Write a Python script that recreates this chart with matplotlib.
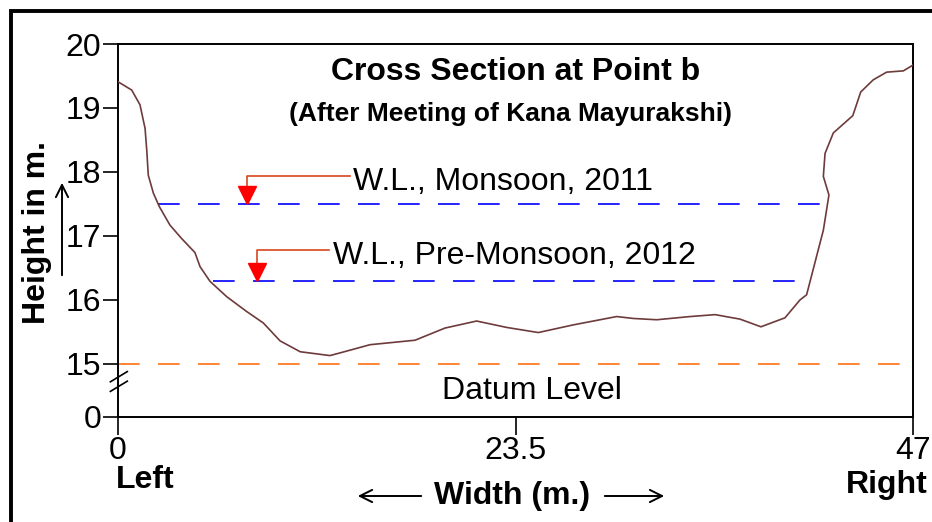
import matplotlib
matplotlib.use("Agg")
import matplotlib.pyplot as plt
from matplotlib.patches import Rectangle
from matplotlib.transforms import ScaledTranslation

plt.rcParams['font.family'] = ['Liberation Sans', 'DejaVu Sans']

# 断面データ (幅 m, 高さ m)
width = [0, 0.81, 1.3, 1.6, 1.7, 1.79, 2.09, 2.44, 3.07, 3.76, 4.55, 4.85, 5.44,
         6.43, 7.6, 8.59, 9.58, 10.77, 12.53, 13.1, 14.9, 17.56, 19.33, 21.2,
         22.98, 24.85, 26.92, 29.48, 30.47, 31.85, 33.82, 35.3, 36.77, 38.01,
         39.43, 40.32, 40.71, 41.7, 42.03, 41.7, 41.8, 42.29, 43.44, 43.91,
         44.65, 45.44, 46.43, 47]
height = [19.41, 19.28, 19.05, 18.68, 18.34, 17.95, 17.67, 17.46, 17.17, 16.96,
          16.74, 16.52, 16.29, 16.05, 15.82, 15.64, 15.36, 15.19, 15.13, 15.17,
          15.30, 15.37, 15.56, 15.67, 15.57, 15.49, 15.61, 15.74, 15.71, 15.69,
          15.74, 15.77, 15.70, 15.58, 15.72, 16.0, 16.08, 17.09, 17.64, 17.93,
          18.29, 18.61, 18.88, 19.25, 19.44, 19.56, 19.58, 19.67]

# 水位 (W.L.)
wl_names = ["W.L., Monsoon, 2011", "W.L., Pre-Monsoon, 2012"]
wl_levels = [17.50, 16.29]
wl_start = [2.38, 5.64]
wl_end = [41.8, 40.7]
wl_arrow_x = [7.61, 8.2]
wl_elbow_y = [17.94, 16.78]
wl_text_x = [13.9, 12.7]

datum = 15.0
y_zero = 14.17   # 軸の切れ目より下の "0" の位置

xticks = [0, 23.5, 47]
xlabels = ["0", "23.5", "47"]
yticks = [y_zero, 15, 16, 17, 18, 19, 20]
ylabels = ["0", "15", "16", "17", "18", "19", "20"]

W, H = 932, 522
FS = 23


def fx(px):
    return px / W


def fy(py):
    return 1 - py / H


def main():
    fig = plt.figure(figsize=(W / 100, H / 100), dpi=100)
    ax = fig.add_axes([fx(118), fy(417), (913 - 118) / W, (417 - 44) / H])

    # 断面
    ax.plot(width, height, color="#6E3B3B", lw=1.2, zorder=3)

    # 水位線
    for lv, x0, x1 in zip(wl_levels, wl_start, wl_end):
        ax.plot([x0, x1], [lv, lv], color="#0000FF", lw=1.2,
                dashes=(13, 11), zorder=2)

    # 基準面
    ax.plot([0, 46.6], [datum, datum], color="#FF6F10", lw=1.2,
            dashes=(13, 11), zorder=2)
    ax.text(24.5, 14.58, "Datum Level", fontsize=FS, ha="center", va="center")

    # 水位ラベルと矢印
    ms = 13
    off = ScaledTranslation(0, ms / 2 / 72, fig.dpi_scale_trans)
    for name, lv, ax_x, ey, tx in zip(wl_names, wl_levels, wl_arrow_x,
                                      wl_elbow_y, wl_text_x):
        ax.plot([tx - 0.2, ax_x, ax_x], [ey, ey, lv + 0.2],
                color="#D8461C", lw=1.2, zorder=4)
        ax.plot([ax_x], [lv], marker="v", ms=ms, color="red", mec="red",
                transform=ax.transData + off, zorder=5)
        ax.text(tx, ey - 0.1, name, fontsize=FS, ha="left", va="center")

    # タイトル
    ax.text(23.5, 19.56, "Cross Section at Point b", fontsize=FS,
            fontweight="bold", ha="center", va="center")
    ax.text(23.2, 18.9, "(After Meeting of Kana Mayurakshi)", fontsize=19,
            fontweight="bold", ha="center", va="center")

    ax.set_xlim(0, 47)
    ax.set_ylim(y_zero, 20)
    ax.set_xticks(xticks)
    ax.set_xticklabels(xlabels)
    ax.set_yticks(yticks)
    ax.set_yticklabels(ylabels)
    ax.tick_params(axis="x", length=13, width=1.2, pad=1, labelsize=FS)
    ax.tick_params(axis="y", length=11, width=1.2, pad=1, labelsize=FS)
    for s in ax.spines.values():
        s.set_linewidth(1.4)

    # 軸の切れ目
    for dy in [0, 0.15]:
        ax.plot([-0.45, 0.55], [14.72 - dy, 14.88 - dy], color="black",
                lw=1.2, clip_on=False, zorder=6)

    # 軸ラベル
    arrow = dict(arrowstyle="->", lw=1.4, color="black", mutation_scale=22)
    fig.text(fx(37), fy(232), "Height in m.", fontsize=FS, fontweight="bold",
             rotation=90, ha="center", va="center")
    ax.annotate("", xy=(fx(62), fy(180)), xytext=(fx(62), fy(278)),
                xycoords="figure fraction", arrowprops=arrow)
    fig.text(fx(116), fy(480), "Left", fontsize=FS, fontweight="bold",
             ha="left", va="center")
    fig.text(fx(928), fy(485), "Right", fontsize=FS, fontweight="bold",
             ha="right", va="center")
    fig.text(fx(512), fy(496), "Width (m.)", fontsize=FS, fontweight="bold",
             ha="center", va="center")
    ax.annotate("", xy=(fx(355), fy(496)), xytext=(fx(424), fy(496)),
                xycoords="figure fraction", arrowprops=arrow)
    ax.annotate("", xy=(fx(667), fy(496)), xytext=(fx(602), fy(496)),
                xycoords="figure fraction", arrowprops=arrow)

    # 外枠
    fig.patches.append(Rectangle((fx(11), -0.2), 1.2, fy(11) + 0.2,
                                 transform=fig.transFigure, fill=False,
                                 lw=2.8, ec="black"))

    fig.savefig("out.png", dpi=100)


if __name__ == "__main__":
    main()
